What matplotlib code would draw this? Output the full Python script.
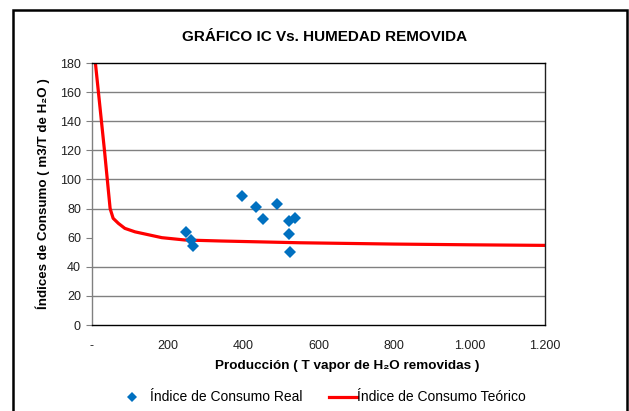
import matplotlib
matplotlib.use("Agg")
import matplotlib.pyplot as plt
from matplotlib.patches import Rectangle
from matplotlib.lines import Line2D

plt.rcParams['font.family'] = ['Liberation Sans', 'DejaVu Sans']

# Real consumption index (scatter)
real_x = [248, 261, 268, 397, 434, 452, 491, 523, 538, 521, 524]
real_y = [63.7, 58.4, 54.3, 88.6, 81.0, 73.0, 83.1, 71.4, 73.3, 62.3, 50.3]

# Theoretical consumption index (curve)
teo_x = [9, 33, 48, 56, 70, 87, 114, 185, 246, 343, 550, 800, 1000, 1200]
teo_y = [180, 120, 80, 73.3, 69.8, 66.4, 64.0, 60.0, 58.4, 57.7, 56.5, 55.6, 55.1, 54.7]

y_ticks = [0, 20, 40, 60, 80, 100, 120, 140, 160, 180]
grid_levels = [20, 40, 80, 100, 120, 140, 160]
x_ticks = [0, 200, 400, 600, 800, 1000, 1200]
x_tick_labels = ['-', '200', '400', '600', '800', '1.000', '1.200']

W, H = 629, 411
fig = plt.figure(figsize=(W/100, H/100), dpi=100)
fig.patch.set_facecolor('white')
ax = fig.add_axes([92/W, 1-325/H, (545-92)/W, (325-63)/H])

for g in grid_levels:
    ax.axhline(g, color='#808080', lw=1.0, zorder=1)

ax.plot(teo_x, teo_y, color='#FF0000', lw=2.3, zorder=2, solid_capstyle='butt')
ax.plot(real_x, real_y, linestyle='none', marker='D', markersize=6.5,
        color='#0070C0', markeredgewidth=0, zorder=3)

ax.set_xlim(0, 1200)
ax.set_ylim(0, 180)
ax.set_yticks(y_ticks)
ax.set_yticklabels([str(v) for v in y_ticks], fontsize=9, color='#202020')
ax.set_xticks(x_ticks)
ax.set_xticklabels(x_tick_labels, fontsize=9, color='#202020')
ax.tick_params(axis='x', length=0, pad=11)
ax.tick_params(axis='y', length=4, color='#808080', pad=4)

ax.spines['left'].set_color('#808080')
ax.spines['bottom'].set_color('black')
ax.spines['top'].set_color('black')
ax.spines['right'].set_color('#202020')
for s in ax.spines.values():
    s.set_linewidth(1.0)

fig.text(325/W, 1-37/H, 'GRÁFICO IC Vs. HUMEDAD REMOVIDA', ha='center', va='center',
         fontsize=11, fontweight='bold')
fig.text(347/W, 1-366/H, 'Producción ( T vapor de H₂O removidas )', ha='center', va='center',
         fontsize=9.7, fontweight='bold')
fig.text(43/W, 1-194/H, 'Índices de Consumo ( m3/T de H₂O )', ha='center', va='center',
         fontsize=9.6, fontweight='bold', rotation=90)

# Legend (drawn manually for exact placement)
ly = 1-397/H
fig.add_artist(Line2D([132/W], [ly], linestyle='none', marker='D', markersize=5,
                      color='#0070C0', markeredgewidth=0, transform=fig.transFigure))
fig.text(150/W, ly, 'Índice de Consumo Real', ha='left', va='center', fontsize=10)
fig.add_artist(Line2D([329/W, 357/W], [ly, ly], color='#FF0000', lw=2.3,
                      transform=fig.transFigure))
fig.text(357/W, ly, 'Índice de Consumo Teórico', ha='left', va='center', fontsize=10)

fig.add_artist(Rectangle((13/W, -0.01), (627-13)/W, 1-10/H+0.01,
                         transform=fig.transFigure, fill=False, edgecolor='black', lw=1.8))

fig.savefig('out.png', dpi=100)
